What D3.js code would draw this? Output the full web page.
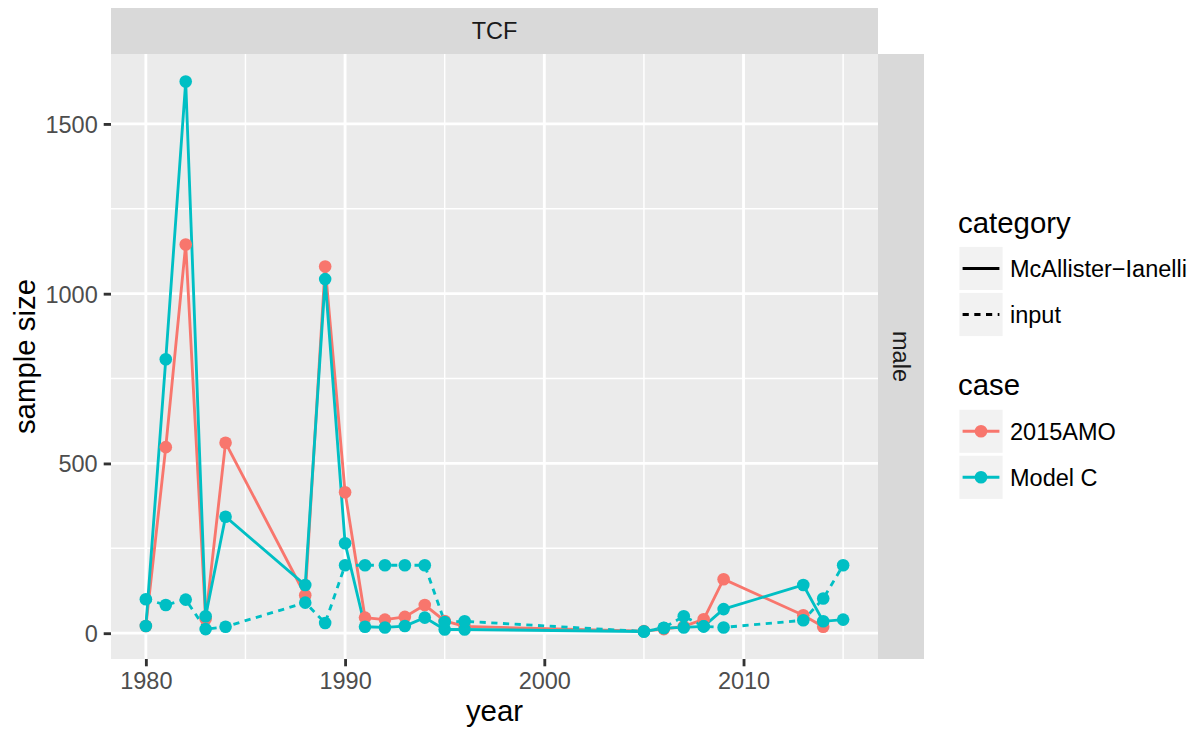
<!DOCTYPE html>
<html lang="en">
<head>
<meta charset="utf-8">
<title>TCF sample size</title>
<script src="https://d3js.org/d3.v7.min.js"></script>
<style>
  body { margin: 0; background: #fff; }
  svg { display: block; font-family: "Liberation Sans", Arial, sans-serif; }
</style>
</head>
<body>
<svg width="1199" height="730"></svg>
<script>
// ---- data ----
var years = [1980,1981,1982,1983,1984,1988,1989,1990,1991,1992,1993,1994,1995,1996,2005,2006,2007,2008,2009,2013,2014,2015];
// 2015AMO, McAllister-Ianelli (no 2015 value)
var amoMI    = [21,548,1145,42,561,112,1080,415,46,40,48,83,36,20,6,12,20,41,159,53,19,null];
// Model C, McAllister-Ianelli
var modelCMI = [21,807,1625,50,343,142,1043,265,19,17,21,46,11,11,5,15,17,20,71,142,35,40];
// input (identical for both cases, Model C drawn on top)
var inputN   = [100,83,99,12,19,90,30,200,200,200,200,200,33,35,5,16,50,20,17,38,102,200];

var xTicks = [1980, 1990, 2000, 2010];
var xMinor = [1985, 1995, 2005, 2015];
var yTicks = [0, 500, 1000, 1500];
var yMinor = [250, 750, 1250];

var caseNames = ["2015AMO", "Model C"];
var caseColors = ["#F8766D", "#00BFC4"];
var catNames = ["McAllister\u2212Ianelli", "input"];

var series = [
  {name: "2015AMO", cat: 0, color: caseColors[0], vals: amoMI},
  {name: "Model C", cat: 0, color: caseColors[1], vals: modelCMI},
  {name: "Model C", cat: 1, color: caseColors[1], vals: inputN}
];

// ---- layout ----
var svg = d3.select("svg");
var panel = {left: 111, right: 878, top: 54, bottom: 659};
var lw = 2.85, smallFont = 23.5, bigFont = 29.4;
var dash = "6.2,5.5";

var allVals = [];
series.forEach(function(s){ s.vals.forEach(function(v){ if (v != null) allVals.push(v); }); });
var yMin = d3.min(allVals), yMax = d3.max(allVals), yPad = (yMax - yMin) * 0.05;
var xPad = (d3.max(years) - d3.min(years)) * 0.05;

var x = d3.scaleLinear().domain([d3.min(years) - xPad, d3.max(years) + xPad]).range([panel.left, panel.right]);
var y = d3.scaleLinear().domain([yMin - yPad, yMax + yPad]).range([panel.bottom, panel.top]);

// panel background
svg.append("rect").attr("x", panel.left).attr("y", panel.top)
  .attr("width", panel.right - panel.left).attr("height", panel.bottom - panel.top)
  .attr("fill", "#EBEBEB");

var grid = svg.append("g").attr("stroke", "#fff");
grid.selectAll(".xmin").data(xMinor).enter().append("line")
  .attr("x1", x).attr("x2", x).attr("y1", panel.top).attr("y2", panel.bottom).attr("stroke-width", lw / 2);
grid.selectAll(".ymin").data(yMinor).enter().append("line")
  .attr("y1", y).attr("y2", y).attr("x1", panel.left).attr("x2", panel.right).attr("stroke-width", lw / 2);
grid.selectAll(".xmaj").data(xTicks).enter().append("line")
  .attr("x1", x).attr("x2", x).attr("y1", panel.top).attr("y2", panel.bottom).attr("stroke-width", lw);
grid.selectAll(".ymaj").data(yTicks).enter().append("line")
  .attr("y1", y).attr("y2", y).attr("x1", panel.left).attr("x2", panel.right).attr("stroke-width", lw);

// lines
var line = d3.line()
  .defined(function(d){ return d[1] != null; })
  .x(function(d){ return x(d[0]); })
  .y(function(d){ return y(d[1]); });

series.forEach(function(s){
  var pts = years.map(function(yr, i){ return [yr, s.vals[i]]; });
  svg.append("path").datum(pts)
    .attr("d", line)
    .attr("fill", "none")
    .attr("stroke", s.color)
    .attr("stroke-width", lw)
    .attr("stroke-dasharray", s.cat === 1 ? dash : null);
});

// points
series.forEach(function(s){
  var pts = years.map(function(yr, i){ return [yr, s.vals[i]]; }).filter(function(d){ return d[1] != null; });
  svg.append("g").selectAll("circle").data(pts).enter().append("circle")
    .attr("cx", function(d){ return x(d[0]); })
    .attr("cy", function(d){ return y(d[1]); })
    .attr("r", 6.3)
    .attr("fill", s.color);
});

// axes
var xAxis = svg.append("g").attr("transform", "translate(0," + panel.bottom + ")")
  .call(d3.axisBottom(x).tickValues(xTicks).tickFormat(d3.format("d")).tickSize(7.3).tickPadding(6));
var yAxis = svg.append("g").attr("transform", "translate(" + panel.left + ",0)")
  .call(d3.axisLeft(y).tickValues(yTicks).tickFormat(d3.format("d")).tickSize(7.3).tickPadding(6));
[xAxis, yAxis].forEach(function(a){
  a.select(".domain").remove();
  a.selectAll(".tick line").attr("stroke", "#333333").attr("stroke-width", lw);
  a.selectAll(".tick text").attr("fill", "#4D4D4D").style("font-size", smallFont + "px")
    .style("font-family", "'Liberation Sans', Arial, sans-serif");
});
xAxis.selectAll(".tick text").attr("y", 0).attr("dy", "0").attr("transform", "translate(0,30)");
yAxis.selectAll(".tick text").attr("dy", "0.36em");

// axis titles
svg.append("text").attr("x", (panel.left + panel.right) / 2).attr("y", 721)
  .attr("text-anchor", "middle").style("font-size", bigFont + "px").text("year");
svg.append("text").attr("transform", "translate(35," + (panel.top + panel.bottom) / 2 + ") rotate(-90)")
  .attr("text-anchor", "middle").style("font-size", bigFont + "px").text("sample size");

// strips
svg.append("rect").attr("x", panel.left).attr("y", 8).attr("width", panel.right - panel.left).attr("height", panel.top - 8).attr("fill", "#D9D9D9");
svg.append("text").attr("x", (panel.left + panel.right) / 2).attr("y", 31).attr("dy", "0.36em")
  .attr("text-anchor", "middle").attr("fill", "#1A1A1A").style("font-size", smallFont + "px").text("TCF");
svg.append("rect").attr("x", panel.right).attr("y", panel.top).attr("width", 46).attr("height", panel.bottom - panel.top).attr("fill", "#D9D9D9");
svg.append("text").attr("transform", "translate(" + (panel.right + 23) + "," + (panel.top + panel.bottom) / 2 + ") rotate(90)")
  .attr("dy", "0.36em").attr("text-anchor", "middle").attr("fill", "#1A1A1A").style("font-size", smallFont + "px").text("male");

// legends
var keyX = 958, keyW = 46;
function legendKey(top, drawFn) {
  var g = svg.append("g").attr("transform", "translate(" + keyX + "," + top + ")");
  g.append("rect").attr("x", 0).attr("y", 0).attr("width", keyW).attr("height", keyW)
    .attr("fill", "#F2F2F2").attr("stroke", "#fff").attr("stroke-width", lw);
  drawFn(g);
  return g;
}
svg.append("text").attr("x", keyX).attr("y", 233).style("font-size", bigFont + "px").text("category");
catNames.forEach(function(name, i){
  var top = 245.5 + i * keyW;
  legendKey(top, function(g){
    g.append("line").attr("x1", keyW * 0.1).attr("x2", keyW * 0.9).attr("y1", keyW / 2).attr("y2", keyW / 2)
      .attr("stroke", "#000").attr("stroke-width", lw)
      .attr("stroke-dasharray", i === 1 ? dash : null);
  });
  svg.append("text").attr("x", 1010).attr("y", top + keyW / 2).attr("dy", "0.36em")
    .style("font-size", smallFont + "px").text(name);
});

svg.append("text").attr("x", keyX).attr("y", 395).style("font-size", bigFont + "px").text("case");
caseNames.forEach(function(name, i){
  var top = 408.3 + i * keyW;
  legendKey(top, function(g){
    g.append("line").attr("x1", keyW * 0.1).attr("x2", keyW * 0.9).attr("y1", keyW / 2).attr("y2", keyW / 2)
      .attr("stroke", caseColors[i]).attr("stroke-width", lw);
    g.append("circle").attr("cx", keyW / 2).attr("cy", keyW / 2).attr("r", 6.3).attr("fill", caseColors[i]);
  });
  svg.append("text").attr("x", 1010).attr("y", top + keyW / 2).attr("dy", "0.36em")
    .style("font-size", smallFont + "px").text(name);
});
</script>
</body>
</html>
